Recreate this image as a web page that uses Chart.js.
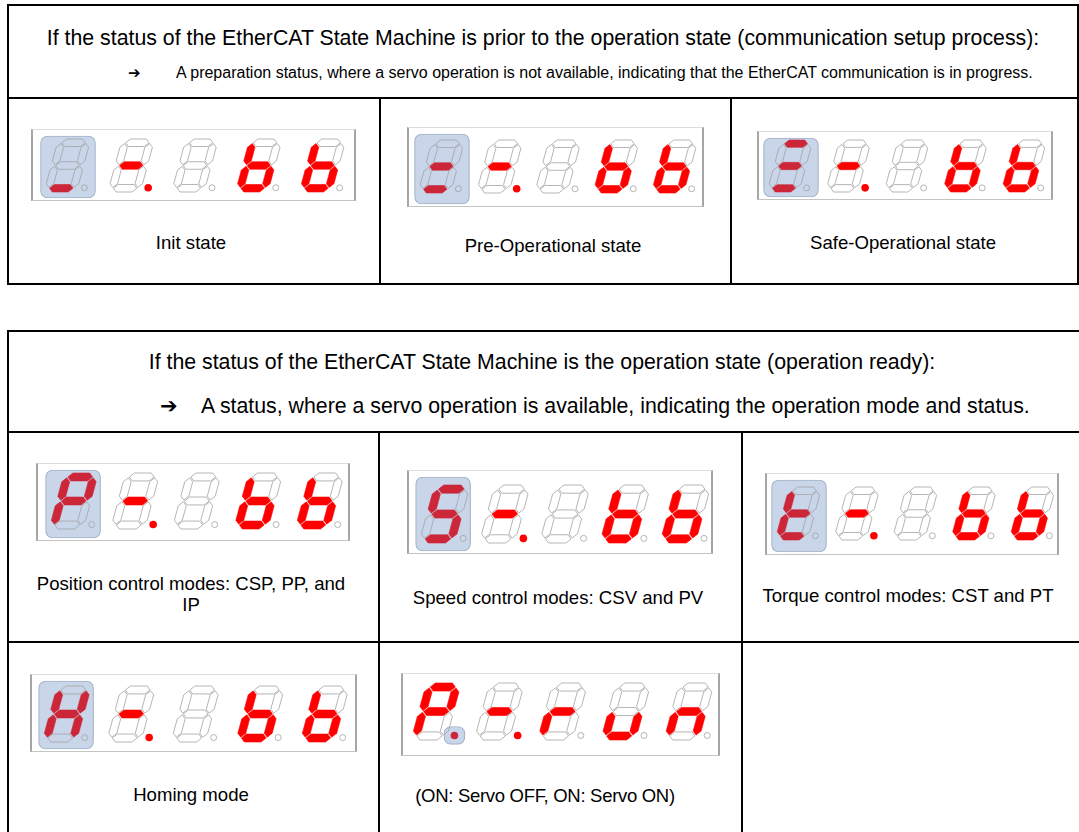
<!doctype html>
<html lang="en">
<head>
<meta charset="utf-8">
<title>EtherCAT State Machine - 7 segment display</title>
<script src="https://cdn.jsdelivr.net/npm/chart.js@4.4.1/dist/chart.umd.min.js"></script>
<style>
  body { margin: 0; width: 1079px; height: 832px; overflow: hidden; background: #fff; position: relative;
         font-family: "Liberation Sans", Arial, sans-serif; color: #000; }
  .ln { position: absolute; background: #000; }
  .txt { position: absolute; white-space: nowrap; transform: translate(-50%, -50%); text-align: center; }
  .lft { position: absolute; white-space: nowrap; transform: translateY(-50%); }
  .frame { position: absolute; border-top: 1px solid #dcdcdc; border-bottom: 1px solid #c4c4c4;
           border-left: 2px solid #a6a6a6; border-right: 2px solid #a6a6a6; }
  .frame canvas { display: block; }
</style>
</head>
<body>

<!-- table 1 -->
<div class="ln" style="left:7px;top:4px;width:1072px;height:2px"></div>
<div class="ln" style="left:7px;top:4px;width:2px;height:281px"></div>
<div class="ln" style="left:1077px;top:4px;width:2px;height:281px"></div>
<div class="ln" style="left:7px;top:97px;width:1072px;height:2px"></div>
<div class="ln" style="left:7px;top:283px;width:1072px;height:2px"></div>
<div class="ln" style="left:379px;top:97px;width:2px;height:188px"></div>
<div class="ln" style="left:730px;top:97px;width:2px;height:188px"></div>

<div class="txt" style="left:543px;top:38px;font-size:21.3px">If the status of the EtherCAT State Machine is prior to the operation state (communication setup process):</div>
<div class="lft" style="left:128px;top:73px;font-size:15px;font-family:'DejaVu Sans'">&#10132;</div>
<div class="lft" style="left:176px;top:73px;font-size:16px">A preparation status, where a servo operation is not available, indicating that the EtherCAT communication is in progress.</div>

<div class="txt" style="left:191px;top:243px;font-size:18.6px">Init state</div>
<div class="txt" style="left:553px;top:246px;font-size:18.6px">Pre-Operational state</div>
<div class="txt" style="left:903px;top:243px;font-size:18.6px">Safe-Operational state</div>

<!-- table 2 -->
<div class="ln" style="left:7px;top:330px;width:1072px;height:2px"></div>
<div class="ln" style="left:7px;top:330px;width:2px;height:502px"></div>
<div class="ln" style="left:7px;top:431px;width:1072px;height:2px"></div>
<div class="ln" style="left:7px;top:641px;width:1072px;height:2px"></div>
<div class="ln" style="left:378px;top:431px;width:2px;height:401px"></div>
<div class="ln" style="left:741px;top:431px;width:2px;height:401px"></div>

<div class="txt" style="left:542px;top:362px;font-size:21.3px">If the status of the EtherCAT State Machine is the operation state (operation ready):</div>
<div class="lft" style="left:160px;top:406px;font-size:21px;font-family:'DejaVu Sans'">&#10132;</div>
<div class="lft" style="left:201px;top:406px;font-size:21.3px">A status, where a servo operation is available, indicating the operation mode and status.</div>

<div class="txt" style="left:191px;top:594px;font-size:18.6px;line-height:21px">Position control modes: CSP, PP, and<br>IP</div>
<div class="txt" style="left:558px;top:598px;font-size:18.6px">Speed control modes: CSV and PV</div>
<div class="txt" style="left:908px;top:596px;font-size:18.6px">Torque control modes: CST and PT</div>
<div class="txt" style="left:191px;top:795px;font-size:18.6px">Homing mode</div>
<div class="txt" style="left:545px;top:796px;font-size:18.5px;letter-spacing:-0.3px">(ON: Servo OFF, ON: Servo ON)</div>

<div id="displays"></div>

<script>
// lit segments of each digit (a..g), '.' = decimal point lit
const initState     = ['d',      'g.', '',   'cdefg', 'cdefg'];
const preOpState    = ['dg',     'g.', '',   'cdefg', 'cdefg'];
const safeOpState   = ['adg',    'g.', '',   'cdefg', 'cdefg'];
const positionMode  = ['abefg',  'g.', '',   'cdefg', 'cdefg'];
const speedMode     = ['acdfg',  'g.', '',   'cdefg', 'cdefg'];
const torqueMode    = ['defg',   'g.', '',   'cdefg', 'cdefg'];
const homingMode    = ['bcefg',  'g.', '',   'cdefg', 'cdefg'];
const servoOnMode   = ['abefg.', 'g.', 'eg', 'cde',   'ceg'];

// what the blue cursor box covers on each display
const cursorOn = ['digit', 'digit', 'digit', 'digit', 'digit', 'digit', 'digit', 'point'];

const allDisplays = [initState, preOpState, safeOpState, positionMode,
                     speedMode, torqueMode, homingMode, servoOnMode];

// frame placement on the page (pixels)
const layouts = [
  {left: 31,  top: 129, w: 321, h: 70, bx: 11, by: 8,  pitch: 63.8, dh: 53},
  {left: 407, top: 127, w: 293, h: 78, bx: 9,  by: 13, pitch: 58.3, dh: 53},
  {left: 757, top: 131, w: 292, h: 67, bx: 8,  by: 7,  pitch: 58.5, dh: 52},
  {left: 36,  top: 463, w: 310, h: 76, bx: 11, by: 11, pitch: 61.5, dh: 56},
  {left: 407, top: 470, w: 302, h: 82, bx: 10, by: 10, pitch: 60.2, dh: 58},
  {left: 765, top: 473, w: 290, h: 80, bx: 8,  by: 14, pitch: 58.5, dh: 53},
  {left: 30,  top: 674, w: 323, h: 76, bx: 10, by: 9,  pitch: 64.5, dh: 56},
  {left: 401, top: 673, w: 315, h: 81, bx: 8,  by: 15, pitch: 63.2, dh: 57}
];

// seven segment shape, in digit units (centre lines L=0 R=W, B=0 M=10 T=20)
const T = 3.3, GAP = 0.35, SLANT = 0.27, W = 11;
function hSeg(y) {
  const h = T / 2;
  return [[GAP, y], [GAP + h, y + h], [W - GAP - h, y + h], [W - GAP, y], [W - GAP - h, y - h], [GAP + h, y - h], [GAP, y]];
}
function vSeg(x, y0, y1) {
  const h = T / 2;
  return [[x, y0 + GAP], [x + h, y0 + GAP + h], [x + h, y1 - GAP - h], [x, y1 - GAP], [x - h, y1 - GAP - h], [x - h, y0 + GAP + h], [x, y0 + GAP]];
}
const SEGMENTS = {
  a: hSeg(20), g: hSeg(10), d: hSeg(0),
  f: vSeg(0, 10, 20), b: vSeg(W, 10, 20),
  e: vSeg(0, 0, 10),  c: vSeg(W, 0, 10)
};
const DP = [15.6, 0.2];

const RED = '#ff0000', RED_CURSOR = '#cc2639', OFF_LINE = '#a2a2a2';

function buildDisplay(digits, lay, cursor, n) {
  const holder = document.getElementById('displays');
  const frame = document.createElement('div');
  frame.className = 'frame';
  frame.style.left = lay.left + 'px';
  frame.style.top = lay.top + 'px';
  frame.innerHTML = '<canvas id="disp' + n + '" width="' + lay.w + '" height="' + lay.h + '"></canvas>';
  holder.appendChild(frame);

  const u = lay.dh / (20 + T);
  const toXY = (i, p) => ({
    x: lay.bx + i * lay.pitch + (p[0] + T / 2 + SLANT * (p[1] + T / 2)) * u,
    y: lay.by + (p[1] + T / 2) * u
  });

  const datasets = [];
  const dpPoints = [], dpFill = [], dpLine = [], dpSize = [];

  digits.forEach((code, i) => {
    const inCursor = cursor === 'digit' && i === 0;
    Object.keys(SEGMENTS).forEach(name => {
      const lit = code.includes(name);
      const col = inCursor ? RED_CURSOR : RED;
      datasets.push({
        type: 'line',
        data: SEGMENTS[name].map(p => toXY(i, p)),
        fill: lit ? 'shape' : false,
        backgroundColor: lit ? col : 'rgba(0,0,0,0)',
        borderColor: lit ? col : OFF_LINE,
        borderWidth: lit ? 0.6 : 0.8,
        pointRadius: 0,
        tension: 0,
        order: 1
      });
    });
    const dpLit = code.includes('.');
    dpPoints.push(toXY(i, DP));
    dpFill.push(dpLit ? (cursor === 'point' && i === 0 ? RED_CURSOR : RED) : 'rgba(255,255,255,0)');
    dpLine.push(dpLit ? 'rgba(0,0,0,0)' : OFF_LINE);
    dpSize.push(dpLit ? 3.8 : 3);
  });

  datasets.push({
    type: 'scatter',
    data: dpPoints,
    pointRadius: dpSize,
    pointBackgroundColor: dpFill,
    pointBorderColor: dpLine,
    pointBorderWidth: 0.8,
    order: 0
  });

  // blue cursor box
  const first = toXY(0, [0, 0]);
  let box;
  if (cursor === 'point') {
    const p = toXY(0, DP);
    box = {x: p.x, y: [p.y - 9, p.y + 9], w: 21};
  } else {
    box = {x: first.x - T / 2 * u - 4 + 27, y: [2, lay.h - 6], w: 55};
  }
  datasets.push({
    type: 'bar',
    data: [{x: box.x, y: box.y}],
    barThickness: box.w,
    backgroundColor: '#c9d6ea',
    borderColor: '#a4b3c9',
    borderWidth: 1.2,
    borderRadius: 7,
    borderSkipped: false,
    grouped: false,
    order: 10
  });

  new Chart(document.getElementById('disp' + n), {
    type: 'scatter',
    data: {datasets: datasets},
    options: {
      responsive: false,
      animation: false,
      devicePixelRatio: 1,
      layout: {padding: 0, autoPadding: false},
      plugins: {legend: {display: false}, tooltip: {enabled: false}},
      scales: {
        x: {type: 'linear', min: 0, max: lay.w, display: false, offset: false},
        y: {type: 'linear', min: 0, max: lay.h, display: false}
      }
    }
  });
}

allDisplays.forEach((digits, n) => buildDisplay(digits, layouts[n], cursorOn[n], n));
</script>
</body>
</html>
